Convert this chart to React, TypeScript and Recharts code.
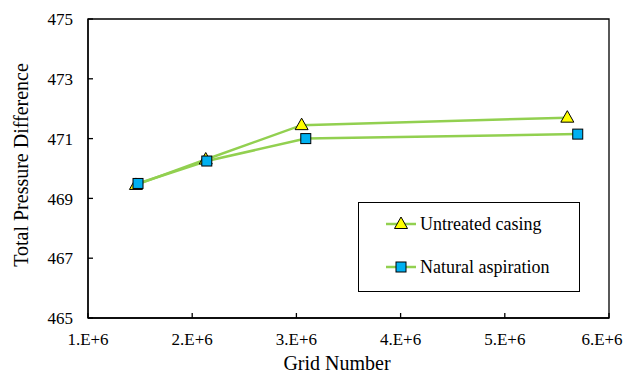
import React from 'react'
import { LineChart, Line, XAxis, YAxis, Label, ReferenceArea } from 'recharts'

// grid size vs. total pressure difference
const gridUntreated = [1.46e6, 2.13e6, 3.05e6, 5.6e6]
const pressureUntreated = [469.45, 470.3, 471.45, 471.7]
const gridNatural = [1.48e6, 2.14e6, 3.09e6, 5.7e6]
const pressureNatural = [469.5, 470.25, 471.0, 471.15]

const xTicks = [1e6, 2e6, 3e6, 4e6, 5e6, 6e6]
const yTicks = [465, 467, 469, 471, 473, 475]

const seriesNames = ['Untreated casing', 'Natural aspiration']

const FONT = '"Liberation Serif", "Times New Roman", serif'
const LINE_COLOR = '#92D050'

const untreatedData = gridUntreated.map((x, i) => ({ x, y: pressureUntreated[i] }))
const naturalData = gridNatural.map((x, i) => ({ x, y: pressureNatural[i] }))

const Triangle = ({ cx, cy }: any) => (
  <path
    d={`M${cx},${cy - 7} L${cx + 6.5},${cy + 4.5} L${cx - 6.5},${cy + 4.5} Z`}
    fill="#FFFF00"
    stroke="#000"
    strokeWidth={1}
  />
)

const Square = ({ cx, cy }: any) => (
  <rect x={cx - 5} y={cy - 5} width={10} height={10} fill="#00B0F0" stroke="#000" strokeWidth={1} />
)

const XTick = ({ x, y, payload }: any) => (
  <text x={x} y={y} dy="0.71em" textAnchor="middle" fill="#000" fontFamily={FONT} fontSize={17}>
    {`${payload.value / 1e6}.E+6`}
  </text>
)

const YTick = ({ x, y, payload }: any) => (
  <text x={x} y={y} dy="0.36em" textAnchor="end" fill="#000" fontFamily={FONT} fontSize={17}>
    {payload.value}
  </text>
)

const LegendBox = () => (
  <div
    style={{
      position: 'absolute',
      left: 358,
      top: 202,
      width: 222,
      height: 90,
      border: '1.5px solid #000',
      boxSizing: 'border-box',
      background: '#fff'
    }}
  >
    <svg width={219} height={87} style={{ display: 'block' }}>
      {seriesNames.map((name, i) => {
        const cy = 21 + i * 43
        return (
          <g key={name}>
            <line x1={27} x2={57} y1={cy} y2={cy} stroke={LINE_COLOR} strokeWidth={2.5} />
            {i === 0 ? <Triangle cx={42} cy={cy} /> : <Square cx={42} cy={cy} />}
            <text x={61} y={cy + 6} fill="#000" fontFamily={FONT} fontSize={18}>
              {name}
            </text>
          </g>
        )
      })}
    </svg>
  </div>
)

export default function App() {
  return (
    <div style={{ position: 'fixed', left: 0, top: 0, width: 630, height: 373, background: '#fff', fontFamily: FONT }}>
      <style>{`.chart-frame text { font-family: "Liberation Serif", "Times New Roman", serif !important; }`}</style>
      <div className="chart-frame">
        <LineChart width={630} height={373} margin={{ top: 19, right: 21, bottom: 0, left: 0 }}>
          <XAxis
            type="number"
            dataKey="x"
            domain={[1e6, 6e6]}
            ticks={xTicks}
            allowDataOverflow
            tick={<XTick />}
            tickSize={-5}
            tickMargin={20}
            stroke="#000"
            strokeWidth={1.3}
            height={55}
          >
            <Label
              content={() => (
                <text x={337} y={370} textAnchor="middle" fill="#000" fontFamily={FONT} fontSize={20}>
                  Grid Number
                </text>
              )}
            />
          </XAxis>
          <YAxis
            type="number"
            domain={[465, 475]}
            ticks={yTicks}
            tick={<YTick />}
            tickSize={-5}
            tickMargin={20}
            stroke="#000"
            strokeWidth={1.3}
            width={88}
          >
            <Label
              content={() => (
                <text
                  x={21}
                  y={165}
                  transform="rotate(-90 21 165)"
                  textAnchor="middle"
                  dominantBaseline="central"
                  fill="#000"
                  fontFamily={FONT}
                  fontSize={20}
                >
                  Total Pressure Difference
                </text>
              )}
            />
          </YAxis>
          <ReferenceArea x1={1e6} x2={6e6} y1={465} y2={475} fill="none" stroke="#000" strokeWidth={1.3} ifOverflow="visible" />
          <Line
            data={untreatedData}
            dataKey="y"
            name={seriesNames[0]}
            stroke={LINE_COLOR}
            strokeWidth={2.5}
            dot={<Triangle />}
            isAnimationActive={false}
          />
          <Line
            data={naturalData}
            dataKey="y"
            name={seriesNames[1]}
            stroke={LINE_COLOR}
            strokeWidth={2.5}
            dot={<Square />}
            isAnimationActive={false}
          />
        </LineChart>
      </div>
      <LegendBox />
    </div>
  )
}
